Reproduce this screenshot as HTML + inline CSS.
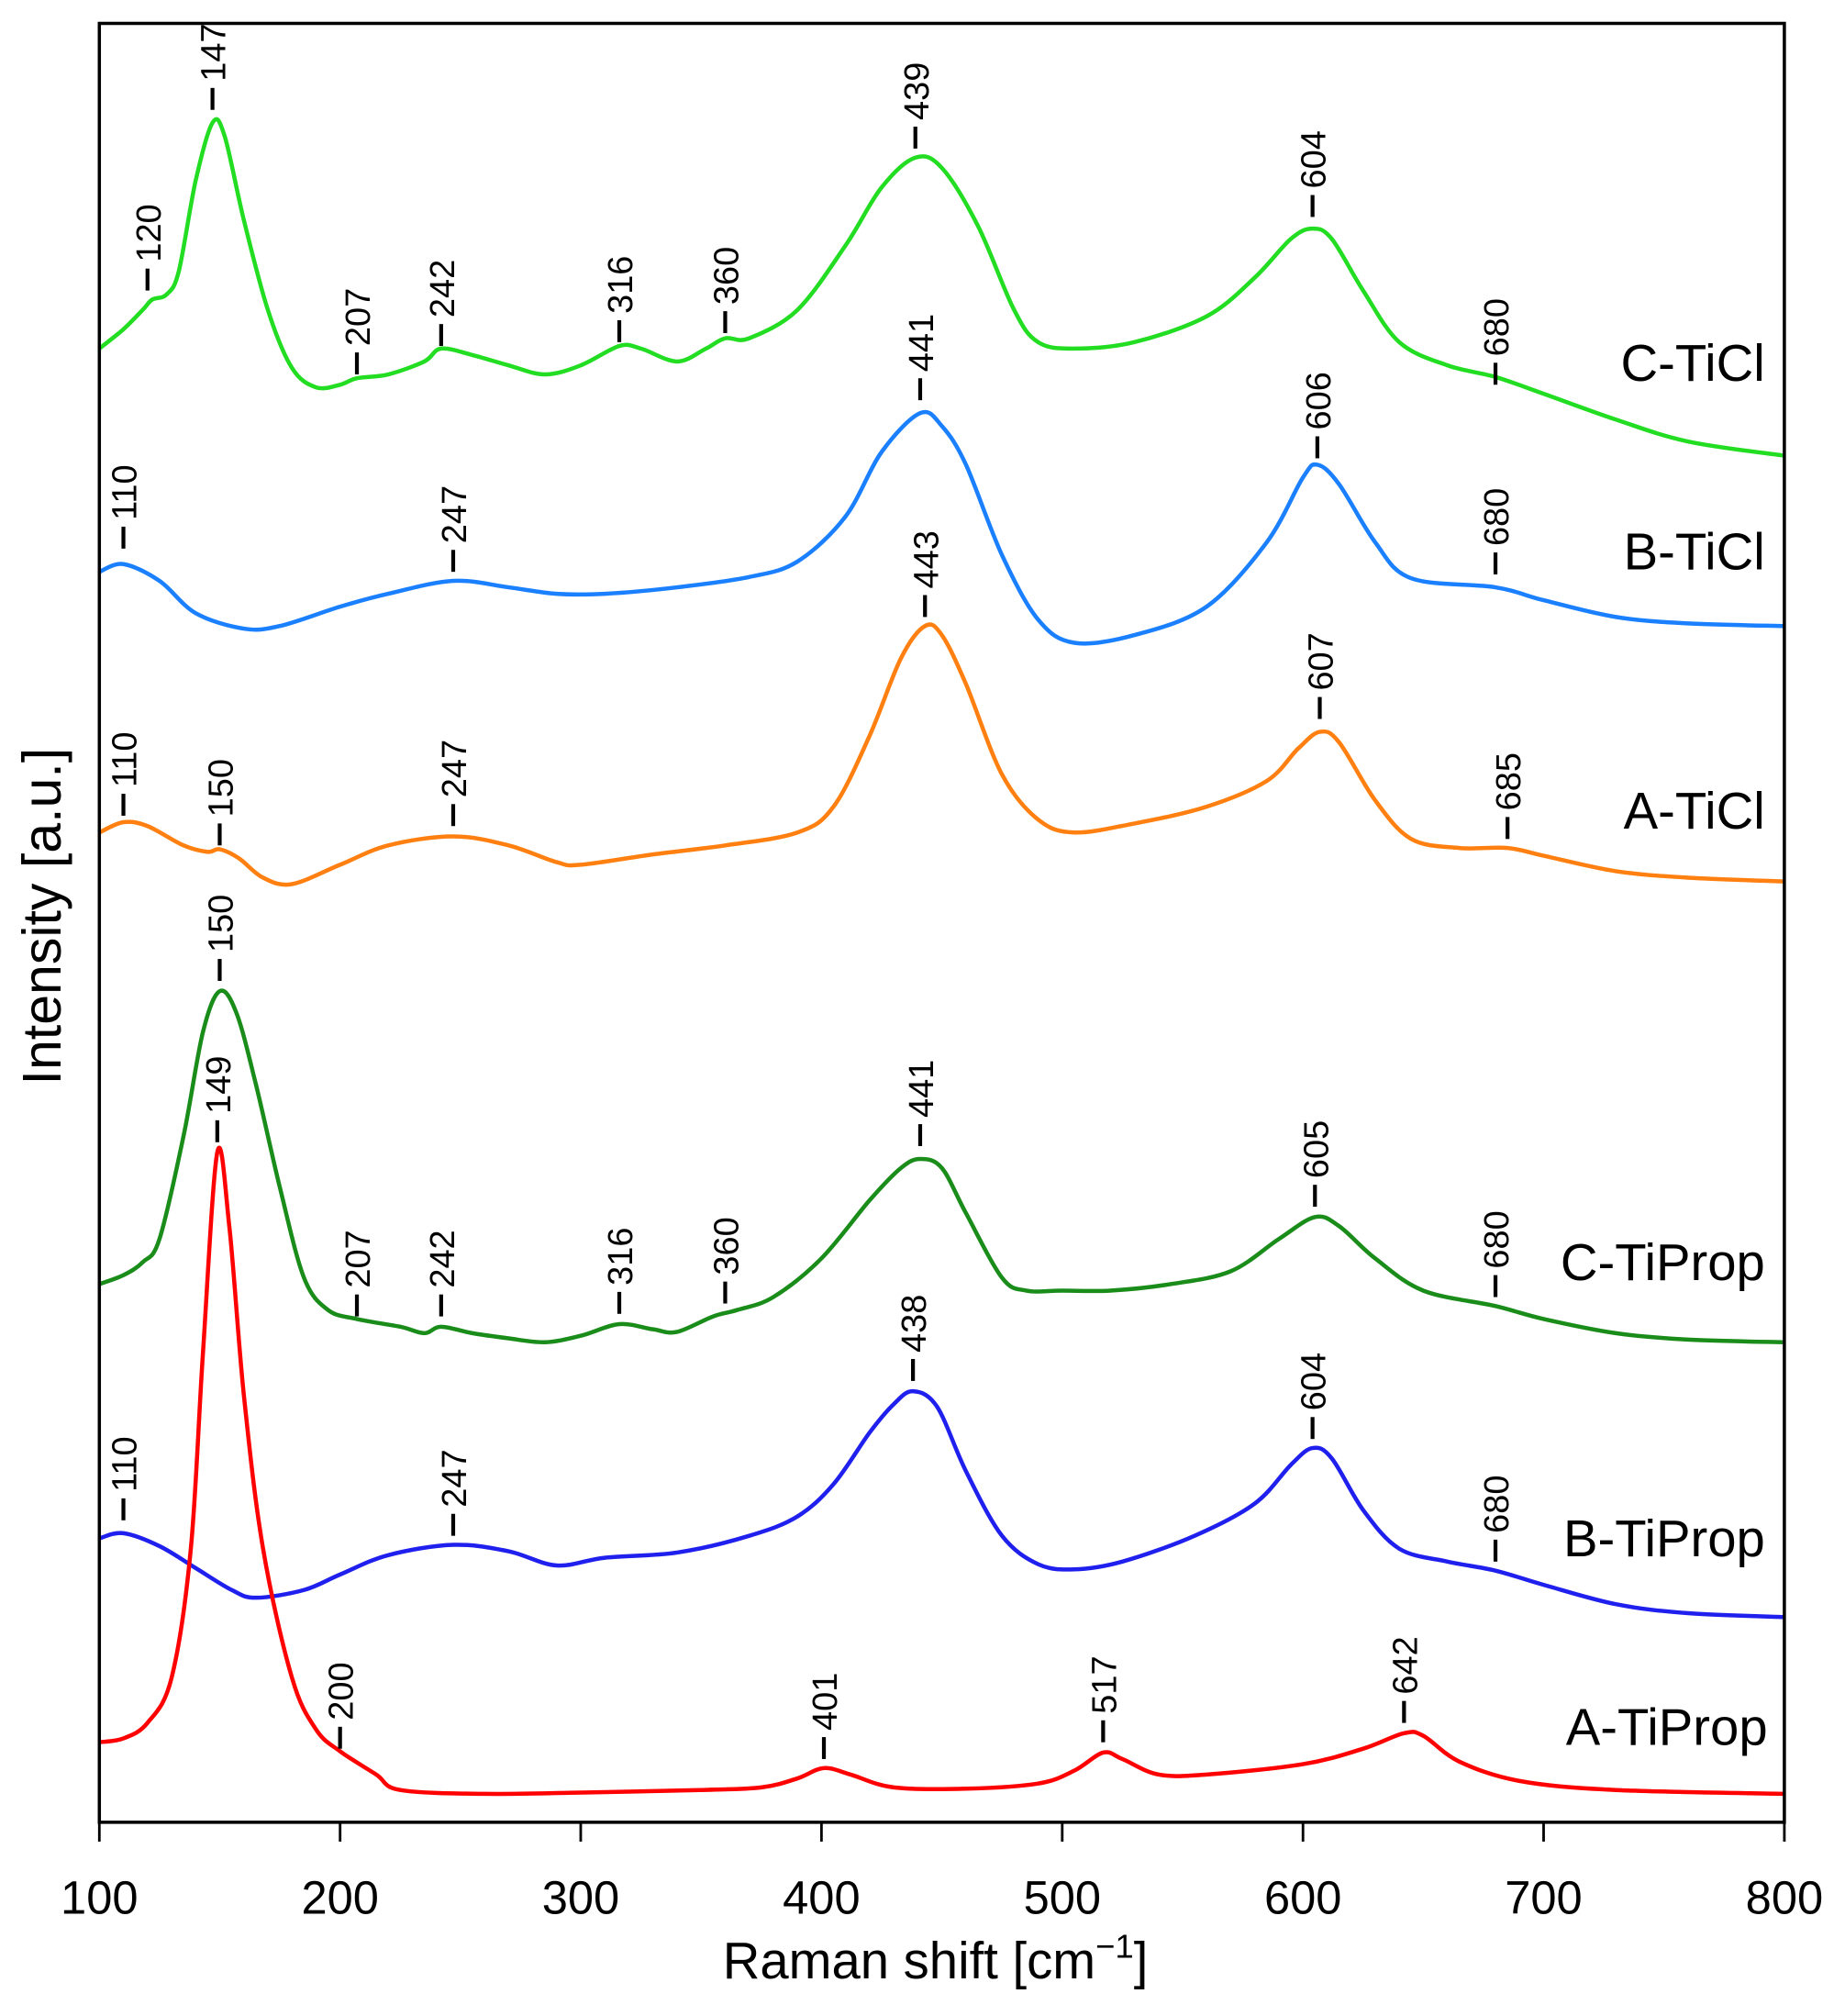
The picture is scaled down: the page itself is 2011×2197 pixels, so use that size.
<!DOCTYPE html>
<html><head><meta charset="utf-8"><style>
html,body{margin:0;padding:0;background:#fff;}
svg{display:block;}
text{font-family:"Liberation Sans","DejaVu Sans",sans-serif;fill:#000;}
</style></head><body>
<svg id="s" xmlns="http://www.w3.org/2000/svg" width="2011" height="2197" viewBox="0 0 1430 1562">
<rect x="0" y="0" width="1430" height="1562" fill="#fff"/>
<g id="curves" fill="none" stroke-width="3.2" stroke-linejoin="round"></g>
<g id="labels"></g>
<rect x="77" y="18" width="1306" height="1394" fill="none" stroke="#000" stroke-width="2.5"/>
<g stroke="#000" stroke-width="2">
<line x1="77" y1="1412" x2="77" y2="1427"/><line x1="263.6" y1="1412" x2="263.6" y2="1427"/><line x1="450.1" y1="1412" x2="450.1" y2="1427"/><line x1="636.7" y1="1412" x2="636.7" y2="1427"/><line x1="823.3" y1="1412" x2="823.3" y2="1427"/><line x1="1009.9" y1="1412" x2="1009.9" y2="1427"/><line x1="1196.4" y1="1412" x2="1196.4" y2="1427"/><line x1="1383" y1="1412" x2="1383" y2="1427"/>
</g>
<g font-size="36" text-anchor="middle">
<text x="77" y="1483">100</text><text x="263.6" y="1483">200</text><text x="450.1" y="1483">300</text><text x="636.7" y="1483">400</text><text x="823.3" y="1483">500</text><text x="1009.9" y="1483">600</text><text x="1196.4" y="1483">700</text><text x="1383" y="1483">800</text>
</g>
<text x="725" y="1533" font-size="40" text-anchor="middle">Raman shift [cm<tspan dy="-16" font-size="26">−1</tspan><tspan dy="16">]</tspan></text>
<text transform="translate(47,710) rotate(-90)" font-size="42" text-anchor="middle">Intensity [a.u.]</text>
<g font-size="40" text-anchor="end">
<text x="1368" y="295">C-TiCl</text>
<text x="1368" y="441">B-TiCl</text>
<text x="1368" y="642">A-TiCl</text>
<text x="1368" y="992">C-TiProp</text>
<text x="1368" y="1206">B-TiProp</text>
<text x="1370" y="1352">A-TiProp</text>
</g>
</svg>
<script>
const X=c=>77+(c-100)*1.8657;
const series=[
["#22dd22",[[100,270],[110,255],[118,240],[122,232],[128,228],[133,210],[140,140],[147,95],[152,105],[160,170],[170,240],[180,285],[190,300],[200,298],[207,293],[220,290],[235,280],[242,270],[255,275],[270,283],[285,290],[300,283],[316,268],[325,270],[340,280],[352,270],[360,262],[370,262],[390,240],[410,190],[425,145],[439,122],[450,130],[465,175],[480,240],[490,265],[505,270],[530,265],[560,245],[580,215],[595,185],[604,177],[612,185],[625,225],[640,265],[660,283],[680,292],[700,305],[730,325],[760,342],[800,353]]],
["#1a80ff",[[100,443],[110,437],[125,450],[140,475],[160,487],[175,485],[200,470],[220,460],[247,450],[270,455],[290,460],[310,460],[340,455],[370,447],[390,435],[410,400],[425,350],[441,320],[450,330],[460,360],[475,430],[490,480],[505,498],[530,492],[560,470],[585,420],[600,370],[606,360],[615,375],[630,420],[645,448],[680,455],[700,465],[730,478],[760,483],[800,485]]],
["#ff8010",[[100,645],[110,637],[120,640],[135,655],[145,660],[150,658],[158,665],[168,680],[180,685],[200,670],[220,655],[247,648],[270,655],[290,668],[300,670],[330,662],[360,655],[390,645],[405,625],[420,570],[433,510],[443,485],[450,492],[460,530],[475,600],[490,635],[505,645],[530,638],[560,625],[585,605],[598,580],[607,567],[615,575],[630,620],[645,650],[665,657],[685,657],[700,663],[730,675],[760,680],[800,683]]],
["#1a8c1a",[[100,995],[110,988],[118,978],[125,960],[135,880],[143,800],[150,768],[157,785],[165,840],[175,920],[185,990],[195,1015],[207,1022],[225,1028],[235,1033],[242,1028],[255,1033],[270,1037],[285,1040],[300,1035],[316,1026],[330,1030],[340,1032],[355,1020],[365,1015],[380,1005],[400,975],[420,930],[433,905],[441,898],[450,905],[460,940],[475,990],[485,1000],[500,1000],[520,1000],[545,995],[570,985],[590,960],[605,943],[615,950],[630,975],[650,1000],[680,1012],[700,1022],[730,1033],[760,1038],[800,1040]]],
["#2020ee",[[100,1192],[110,1188],[125,1198],[140,1215],[155,1232],[165,1238],[185,1232],[200,1220],[220,1205],[247,1197],[270,1202],[290,1213],[310,1207],[340,1203],[370,1190],[390,1175],[405,1150],[420,1110],[430,1088],[438,1078],[448,1090],[460,1140],[475,1190],[490,1212],[505,1216],[525,1210],[555,1190],[580,1165],[595,1135],[604,1122],[612,1130],[625,1170],[640,1200],[660,1210],[680,1217],[700,1228],[730,1243],[760,1250],[800,1253]]],
["#ff0000",[[100,1350],[110,1347],[120,1335],[130,1300],[138,1200],[143,1050],[149,893],[154,950],[160,1080],[168,1200],[180,1300],[190,1340],[200,1357],[215,1375],[225,1387],[260,1390],[300,1389],[350,1387],[375,1385],[390,1378],[401,1370],[412,1375],[430,1385],[460,1386],[490,1382],[505,1372],[517,1358],[525,1363],[540,1375],[560,1375],[600,1367],[625,1355],[642,1343],[650,1345],[665,1365],[690,1380],[730,1387],[800,1390]]]
];
function path(pts){
 const p=pts.map(a=>[X(a[0]),a[1]]);
 let d="M"+p[0][0].toFixed(1)+","+p[0][1];
 for(let i=0;i<p.length-1;i++){
  const p0=p[i-1]||p[i],p1=p[i],p2=p[i+1],p3=p[i+2]||p2;
  const c1=[p1[0]+(p2[0]-p0[0])/6,p1[1]+(p2[1]-p0[1])/6];
  const c2=[p2[0]-(p3[0]-p1[0])/6,p2[1]-(p3[1]-p1[1])/6];
  d+=" C"+c1[0].toFixed(1)+","+c1[1].toFixed(1)+" "+c2[0].toFixed(1)+","+c2[1].toFixed(1)+" "+p2[0].toFixed(1)+","+p2[1].toFixed(1);
 }
 return d;
}
const NS="http://www.w3.org/2000/svg";
const g=document.getElementById("curves");
series.forEach(s=>{const e=document.createElementNS(NS,"path");e.setAttribute("d",path(s[1]));e.setAttribute("stroke",s[0]);g.appendChild(e);});
const labs=[[120,225],[147,85],[207,290],[242,268],[316,265],[360,258],[439,115],[604,168],[680,298],
[110,425],[247,443],[441,310],[606,355],[680,445],
[110,632],[150,655],[247,640],[443,478],[607,557],[685,650],
[150,760],[207,1020],[242,1020],[316,1018],[360,1010],[441,888],[605,935],[680,1005],
[110,1178],[247,1190],[438,1070],[604,1115],[680,1210],
[149,885],[200,1355],[401,1363],[517,1350],[642,1335]];
const lg=document.getElementById("labels");
labs.forEach(l=>{const x=X(l[0]),y=l[1];
 const ln=document.createElementNS(NS,"line");ln.setAttribute("x1",x);ln.setAttribute("x2",x);ln.setAttribute("y1",y);ln.setAttribute("y2",y-17);ln.setAttribute("stroke","#000");ln.setAttribute("stroke-width","3");lg.appendChild(ln);
 const t=document.createElementNS(NS,"text");t.setAttribute("transform","translate("+(x+10)+","+(y-22)+") rotate(-90)");t.setAttribute("font-size","27");t.textContent=String(l[0]);lg.appendChild(t);
});
</script>
</body></html>
